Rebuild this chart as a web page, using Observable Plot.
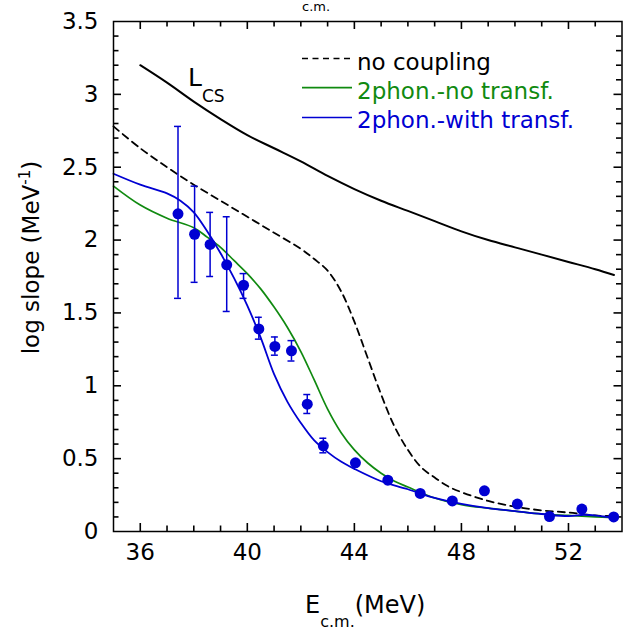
<!DOCTYPE html>
<html><head><meta charset="utf-8">
<script src="https://cdn.jsdelivr.net/npm/d3@7"></script>
<script src="https://cdn.jsdelivr.net/npm/@observablehq/plot@0.6"></script>
<style>body{margin:0;background:#fff} #chart{width:623px;height:630px;}</style>
</head><body><div id="chart"></div>
<script>
// ---- Data ----
const lcsX = [36, 37, 38, 39, 40, 41, 42, 43, 44, 45, 46, 47, 48, 49, 50, 51, 52, 53, 53.7];
const lcsY = [3.20, 3.08, 2.95, 2.83, 2.72, 2.63, 2.54, 2.44, 2.35, 2.27, 2.20, 2.13, 2.06, 2.00, 1.95, 1.90, 1.85, 1.80, 1.76];

const noCouplingX = [35, 36, 37, 38, 39, 40, 41, 42, 42.5, 43, 43.5, 44, 44.5, 45, 45.5, 46, 46.5, 47, 47.5, 48, 49, 50, 51, 52, 53, 53.7];
const noCouplingY = [2.78, 2.63, 2.50, 2.38, 2.27, 2.16, 2.05, 1.94, 1.87, 1.79, 1.65, 1.44, 1.19, 0.94, 0.72, 0.56, 0.44, 0.37, 0.31, 0.27, 0.21, 0.17, 0.145, 0.13, 0.11, 0.105];

const noTransfX = [35, 36, 37, 38, 38.5, 39, 39.5, 40, 40.5, 41, 41.5, 42, 42.5, 43, 43.5, 44, 44.5, 45, 45.5, 46, 47, 48, 49, 50, 51, 52, 53, 53.7];
const noTransfY = [2.37, 2.24, 2.15, 2.085, 2.02, 1.95, 1.86, 1.77, 1.665, 1.54, 1.40, 1.235, 1.04, 0.84, 0.68, 0.56, 0.47, 0.40, 0.345, 0.305, 0.23, 0.185, 0.16, 0.14, 0.12, 0.11, 0.10, 0.095];

const withTransfX = [35, 36, 37, 37.5, 38, 38.5, 39, 39.5, 40, 40.5, 41, 41.5, 42, 42.5, 43, 43.5, 44, 45, 46, 47, 48, 49, 50, 51, 52, 52.6, 53.2, 53.7];
const withTransfY = [2.455, 2.38, 2.32, 2.27, 2.19, 2.06, 1.91, 1.74, 1.55, 1.33, 1.08, 0.89, 0.745, 0.625, 0.545, 0.48, 0.43, 0.345, 0.29, 0.23, 0.19, 0.16, 0.14, 0.12, 0.105, 0.115, 0.105, 0.095];

const expX = [37.41, 38.03, 38.61, 39.23, 39.86, 40.43, 41.03, 41.65, 42.24, 42.84, 44.04, 45.25, 46.46, 47.66, 48.86, 50.09, 51.29, 52.50, 53.69];
const expY = [2.18, 2.04, 1.97, 1.83, 1.69, 1.39, 1.27, 1.24, 0.874, 0.588, 0.471, 0.352, 0.261, 0.21, 0.279, 0.188, 0.103, 0.154, 0.10];
const errLo = [1.60, 1.71, 1.75, 1.51, 1.60, 1.32, 1.21, 1.17, 0.81, 0.54];
const errHi = [2.78, 2.37, 2.19, 2.16, 1.77, 1.47, 1.335, 1.31, 0.94, 0.64];

const xTickLabels = [36, 40, 44, 48, 52];
const yTickLabels = [0, 0.5, 1, 1.5, 2, 2.5, 3, 3.5];

// ---- Tables ----
const toRows = (xs, ys) => xs.map((x, i) => ({x, y: ys[i]}));
const lcs = toRows(lcsX, lcsY);
const noCoupling = toRows(noCouplingX, noCouplingY);
const noTransf = toRows(noTransfX, noTransfY);
const withTransf = toRows(withTransfX, withTransfY);
const exp = toRows(expX, expY);
const errs = errLo.map((lo, i) => ({x: expX[i], lo, hi: errHi[i]}));

const W = 623, H = 630, mL = 113, mR = 1.5, mT = 21, mB = 99;
const X0 = 35, X1 = 54, Y0 = 0, Y1 = 3.5;
const innerW = W - mL - mR, innerH = H - mT - mB;
const BLUE = "#0000d2", GREEN = "#108a10";
const majLen = 8, minLen = 5.5, capHalf = 0.13;
const xMinor = d3.range(36, 54, 1).filter(v => !xTickLabels.includes(v));
const yMinor = d3.range(1, 35).filter(i => i % 5 !== 0).map(i => i / 10);
const yMajorInner = yTickLabels.filter(v => v > Y0 && v < Y1);
const TK = {stroke: "black", strokeWidth: 1.6};

const fig = Plot.plot({
  width: W, height: H,
  marginLeft: mL, marginRight: mR, marginTop: mT, marginBottom: mB,
  x: {domain: [X0, X1], label: null},
  y: {domain: [Y0, Y1], label: null},
  style: {fontFamily: "DejaVu Sans", fontSize: "23px", background: "white", color: "black"},
  marks: [
    // inward ticks on all four sides
    Plot.tickX(xMinor, {x: d => d, insetTop: innerH - minLen, ...TK}),
    Plot.tickX(xMinor, {x: d => d, insetBottom: innerH - minLen, ...TK}),
    Plot.tickX(xTickLabels, {x: d => d, insetTop: innerH - majLen, ...TK}),
    Plot.tickX(xTickLabels, {x: d => d, insetBottom: innerH - majLen, ...TK}),
    Plot.tickY(yMinor, {y: d => d, insetRight: innerW - minLen, ...TK}),
    Plot.tickY(yMinor, {y: d => d, insetLeft: innerW - minLen, ...TK}),
    Plot.tickY(yMajorInner, {y: d => d, insetRight: innerW - majLen, ...TK}),
    Plot.tickY(yMajorInner, {y: d => d, insetLeft: innerW - majLen, ...TK}),
    Plot.axisX(xTickLabels, {tickSize: 0, tickPadding: 12, fontSize: 23, label: null}),
    Plot.axisY(yTickLabels, {tickSize: 0, tickPadding: 15, fontSize: 23, label: null, tickFormat: d => String(d)}),
    // curves
    Plot.line(lcs, {x: "x", y: "y", stroke: "black", strokeWidth: 2, curve: "catmull-rom"}),
    Plot.line(noCoupling, {x: "x", y: "y", stroke: "black", strokeWidth: 1.8, strokeDasharray: "7,5", curve: "catmull-rom"}),
    Plot.line(noTransf, {x: "x", y: "y", stroke: GREEN, strokeWidth: 1.7, curve: "catmull-rom"}),
    Plot.line(withTransf, {x: "x", y: "y", stroke: BLUE, strokeWidth: 1.8, curve: "catmull-rom"}),
    // error bars
    Plot.ruleX(errs, {x: "x", y1: "lo", y2: "hi", stroke: BLUE, strokeWidth: 1.5}),
    Plot.ruleY(errs, {y: "lo", x1: d => d.x - capHalf, x2: d => d.x + capHalf, stroke: BLUE, strokeWidth: 1.5}),
    Plot.ruleY(errs, {y: "hi", x1: d => d.x - capHalf, x2: d => d.x + capHalf, stroke: BLUE, strokeWidth: 1.5}),
    Plot.dot(exp, {x: "x", y: "y", r: 5.5, fill: BLUE, stroke: "none"}),
    Plot.frame({stroke: "black", strokeWidth: 1.5})
  ]
});

const s = d3.select(fig);
const ff = "DejaVu Sans";
const addText = (x, y, size, color) => s.append("text").attr("x", x).attr("y", y)
  .attr("text-anchor", "start").attr("font-family", ff).attr("font-size", size).attr("fill", color);

// L_CS label
const lt = addText(188, 86, 25, "black");
lt.append("tspan").text("L");
lt.append("tspan").attr("dy", 15.5).attr("font-size", 17).text("CS");

// legend
const legend = [
  {label: "no coupling", color: "black", dash: "6,4.5", ly: 58.5, ty: 70},
  {label: "2phon.-no transf.", color: GREEN, dash: null, ly: 87.7, ty: 99},
  {label: "2phon.-with transf.", color: BLUE, dash: null, ly: 117.5, ty: 128}
];
legend.forEach(d => {
  const l = s.append("line").attr("x1", 302).attr("x2", 352).attr("y1", d.ly).attr("y2", d.ly)
    .attr("stroke", d.color).attr("stroke-width", d.dash ? 1.6 : 1.7);
  if (d.dash) l.attr("stroke-dasharray", d.dash);
  addText(357, d.ty, 23, d.color).text(d.label);
});

// y axis title
const yt = s.append("text").attr("transform", "translate(38.5,257.5) rotate(-90)")
  .attr("text-anchor", "middle").attr("font-family", ff).attr("font-size", 23).attr("fill", "black");
yt.append("tspan").text("log slope (MeV");
yt.append("tspan").attr("dy", -9).attr("font-size", 15).text("-1");
yt.append("tspan").attr("dy", 9).attr("font-size", 23).text(")");

// x axis title
const xt = addText(305, 613, 24, "black");
xt.append("tspan").text("E");
xt.append("tspan").attr("dy", 14).attr("font-size", 16).text("c.m.");
xt.append("tspan").attr("dy", -14).attr("font-size", 24).text("(MeV)");

// title fragment at top (subscript of a title above the picture)
addText(302, 11, 13, "black").text("c.m.");

document.getElementById("chart").appendChild(fig);
</script>
</body></html>
